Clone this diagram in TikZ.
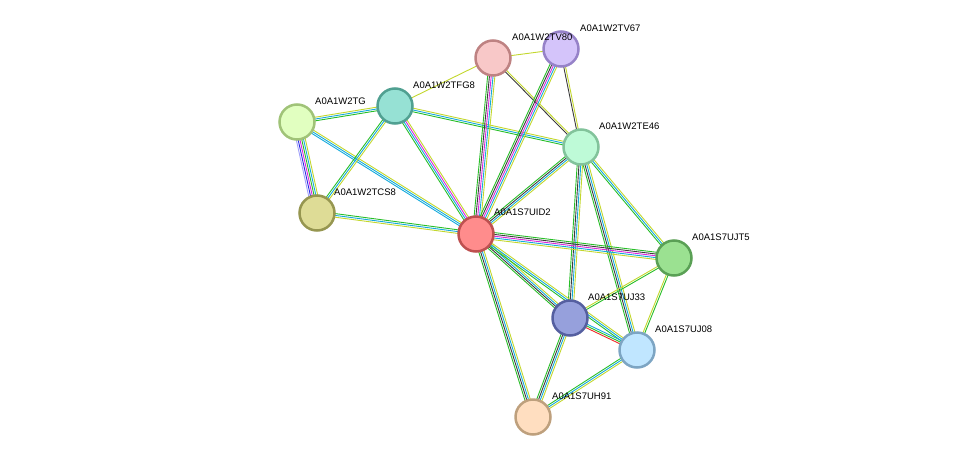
\documentclass[tikz,border=0pt]{standalone}
\usepackage{fontspec}
\setmainfont{Liberation Sans}
\usetikzlibrary{calc}
\definecolor{gn}{RGB}{40,190,40}
\definecolor{yg}{RGB}{195,215,45}
\definecolor{cy}{RGB}{20,170,220}
\definecolor{bk}{RGB}{60,60,60}
\definecolor{mg}{RGB}{220,40,220}
\definecolor{bl}{RGB}{40,40,230}
\definecolor{lv}{RGB}{160,160,250}
\definecolor{rd}{RGB}{240,40,40}
\newcommand\ed[4]{\foreach \c [count=\i] in {#4} {%
  \pgfmathsetmacro\off{(\i-(#3+1)/2)*1.8}%
  \draw[\c, line width=0.9pt] ($(#1)!\off pt!90:(#2)$) -- ($(#2)!\off pt!-90:(#1)$);}}
\tikzset{prot/.style={circle,minimum size=35pt,line width=2.5pt,inner sep=0pt},
  lab/.style={anchor=west,font=\fontsize{9.5pt}{10pt}\selectfont,inner sep=0pt}}
\begin{document}
\begin{tikzpicture}[x=1pt,y=-1pt]
\useasboundingbox (0,0) rectangle (976,463);
\coordinate (UID2) at (476,234);
\coordinate (TV80) at (493,58);
\coordinate (TV67) at (561,49);
\coordinate (TFG8) at (395,106);
\coordinate (TG) at (297,122);
\coordinate (TE46) at (581,147);
\coordinate (TCS8) at (317,213);
\coordinate (UJT5) at (674,258);
\coordinate (UJ33) at (570,318);
\coordinate (UJ08) at (637,350);
\coordinate (UH91) at (533,417);
\ed{TG}{TFG8}{3}{gn,cy,yg}
\ed{TG}{TCS8}{6}{lv,bl,mg,gn,cy,yg}
\ed{TG}{UID2}{3}{cy,cy,yg}
\ed{TFG8}{TV80}{1}{yg}
\ed{TFG8}{TCS8}{3}{gn,cy,yg}
\ed{TFG8}{UID2}{4}{gn,cy,mg,yg}
\ed{TFG8}{TE46}{3}{gn,cy,yg}
\ed{TV80}{TV67}{1}{yg}
\ed{TV80}{UID2}{5}{gn,bk,mg,cy,yg}
\ed{TV80}{TE46}{2}{bk,yg}
\ed{TV67}{UID2}{5}{gn,bk,mg,cy,yg}
\ed{TV67}{TE46}{2}{bk,yg}
\ed{TCS8}{UID2}{3}{yg,cy,gn}
\ed{TE46}{UID2}{4}{gn,bk,cy,yg}
\ed{TE46}{UJ33}{4}{gn,bk,cy,yg}
\ed{TE46}{UJ08}{4}{gn,bk,cy,yg}
\ed{TE46}{UJT5}{3}{gn,cy,yg}
\ed{UID2}{UJT5}{5}{yg,cy,mg,bk,gn}
\ed{UID2}{UJ33}{4}{gn,bk,cy,yg}
\ed{UID2}{UJ08}{3}{gn,cy,yg}
\ed{UID2}{UH91}{4}{gn,bk,cy,yg}
\ed{UJ33}{UJT5}{2}{gn,yg}
\ed{UJ33}{UJ08}{3}{rd,gn,cy}
\ed{UJ33}{UH91}{4}{gn,bk,cy,yg}
\ed{UJ08}{UJT5}{2}{gn,yg}
\ed{UJ08}{UH91}{3}{gn,cy,yg}
\node[lab] (lTG) at (315,101) {A0A1W2TG};
\node[prot,fill={rgb,255:red,255;green,140;blue,140},draw={rgb,255:red,190;green,80;blue,80}] (nUID2) at (UID2) {};
\node[prot,fill={rgb,255:red,248;green,200;blue,200},draw={rgb,255:red,190;green,130;blue,130}] (nTV80) at (TV80) {};
\node[prot,fill={rgb,255:red,212;green,196;blue,250},draw={rgb,255:red,150;green,130;blue,200}] (nTV67) at (TV67) {};
\node[prot,fill={rgb,255:red,150;green,225;blue,212},draw={rgb,255:red,80;green,160;blue,145}] (nTFG8) at (TFG8) {};
\node[prot,fill={rgb,255:red,225;green,255;blue,192},draw={rgb,255:red,160;green,195;blue,120}] (nTG) at (TG) {};
\node[prot,fill={rgb,255:red,190;green,250;blue,215},draw={rgb,255:red,130;green,195;blue,155}] (nTE46) at (TE46) {};
\node[prot,fill={rgb,255:red,222;green,220;blue,150},draw={rgb,255:red,150;green,150;blue,80}] (nTCS8) at (TCS8) {};
\node[prot,fill={rgb,255:red,155;green,225;blue,145},draw={rgb,255:red,90;green,160;blue,85}] (nUJT5) at (UJT5) {};
\node[prot,fill={rgb,255:red,150;green,160;blue,220},draw={rgb,255:red,85;green,95;blue,160}] (nUJ33) at (UJ33) {};
\node[prot,fill={rgb,255:red,192;green,230;blue,255},draw={rgb,255:red,125;green,165;blue,195}] (nUJ08) at (UJ08) {};
\node[prot,fill={rgb,255:red,255;green,222;blue,192},draw={rgb,255:red,190;green,160;blue,125}] (nUH91) at (UH91) {};
\node[lab] (lTV67) at (580,28) {A0A1W2TV67};
\node[lab] (lTV80) at (512,37) {A0A1W2TV80};
\node[lab] (lTFG8) at (413,85) {A0A1W2TFG8};
\node[lab] (lTE46) at (599,126) {A0A1W2TE46};
\node[lab] (lTCS8) at (334,192) {A0A1W2TCS8};
\node[lab] (lUID2) at (494,212) {A0A1S7UID2};
\node[lab] (lUJT5) at (692,237) {A0A1S7UJT5};
\node[lab] (lUJ33) at (588,297) {A0A1S7UJ33};
\node[lab] (lUJ08) at (655,329) {A0A1S7UJ08};
\node[lab] (lUH91) at (552,396) {A0A1S7UH91};
\end{tikzpicture}
\end{document}
